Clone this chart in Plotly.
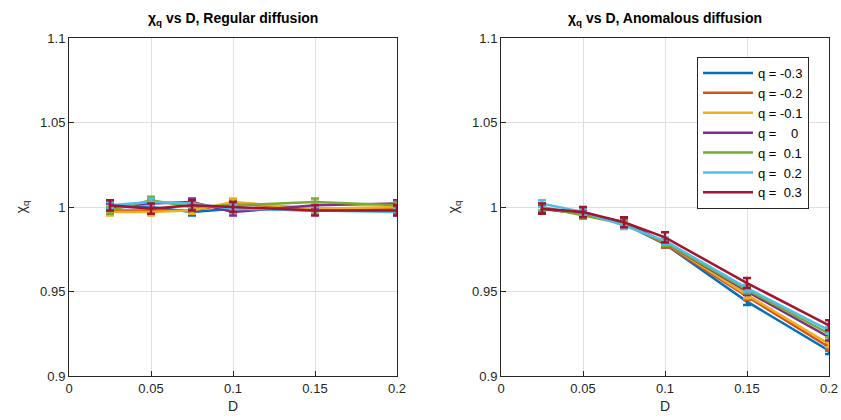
import plotly.graph_objects as go

D = [0.025, 0.05, 0.075, 0.1, 0.15, 0.2]
q_labels = ["q = -0.3", "q = -0.2", "q = -0.1", "q =\u00a0\u00a0\u00a0 0", "q =\u00a0 0.1", "q =\u00a0 0.2", "q =\u00a0 0.3"]
colors = ["#0072BD", "#D95319", "#EDB120", "#7E2F8E", "#77AC30", "#4DBEEE", "#A2142F"]

# Regular diffusion
reg_vals = [
    [1.000, 1.000, 0.997, 0.999, 0.998, 0.998],
    [0.998, 0.998, 0.998, 1.002, 0.999, 0.999],
    [0.997, 0.997, 0.998, 1.003, 0.999, 1.000],
    [1.000, 1.002, 1.003, 0.997, 1.001, 1.002],
    [0.998, 1.004, 1.000, 1.001, 1.003, 1.001],
    [1.001, 1.003, 1.002, 0.999, 0.998, 0.997],
    [1.001, 0.999, 1.001, 1.000, 0.998, 0.998],
]
reg_err = [
    [0.002, 0.002, 0.002, 0.002, 0.002, 0.002],
    [0.002, 0.002, 0.002, 0.002, 0.002, 0.002],
    [0.002, 0.002, 0.002, 0.002, 0.002, 0.002],
    [0.002, 0.002, 0.002, 0.002, 0.002, 0.002],
    [0.002, 0.002, 0.002, 0.002, 0.002, 0.002],
    [0.002, 0.002, 0.002, 0.002, 0.002, 0.002],
    [0.003, 0.003, 0.003, 0.003, 0.003, 0.003],
]

# Anomalous diffusion
ano_vals = [
    [0.999, 0.997, 0.990, 0.978, 0.944, 0.915],
    [0.999, 0.996, 0.991, 0.978, 0.947, 0.917],
    [0.999, 0.996, 0.991, 0.979, 0.948, 0.919],
    [0.999, 0.996, 0.991, 0.979, 0.950, 0.923],
    [1.000, 0.995, 0.990, 0.979, 0.951, 0.925],
    [1.002, 0.997, 0.989, 0.980, 0.952, 0.927],
    [0.999, 0.997, 0.991, 0.982, 0.955, 0.930],
]
ano_err = [
    [0.002, 0.002, 0.002, 0.002, 0.002, 0.002],
    [0.002, 0.002, 0.002, 0.002, 0.002, 0.002],
    [0.002, 0.002, 0.002, 0.002, 0.002, 0.002],
    [0.002, 0.002, 0.002, 0.002, 0.002, 0.002],
    [0.002, 0.002, 0.002, 0.002, 0.002, 0.002],
    [0.002, 0.002, 0.002, 0.002, 0.002, 0.002],
    [0.003, 0.003, 0.003, 0.003, 0.003, 0.003],
]

x_ticks = [0, 0.05, 0.1, 0.15, 0.2]
x_ticktext = ["0", "0.05", "0.1", "0.15", "0.2"]
y_ticks = [0.9, 0.95, 1.0, 1.05, 1.1]
y_ticktext = ["0.9", "0.95", "1", "1.05", "1.1"]

FONT = "Liberation Sans Narrow, Arial Narrow, Liberation Sans, Arial, sans-serif"
TXT = "#262626"

# body margin is removed below, so the figure fills the 841x420 window
W, H = 841, 420


def px(x):
    return x / W


def py(y):
    return 1 - y / H


fig = go.Figure()
for i in range(7):
    fig.add_trace(go.Scatter(
        x=D, y=reg_vals[i], mode="lines", name=q_labels[i],
        line=dict(color=colors[i], width=2.5),
        error_y=dict(type="data", array=reg_err[i], color=colors[i], thickness=2.5, width=4),
        xaxis="x", yaxis="y", showlegend=False, cliponaxis=False))
for i in range(7):
    fig.add_trace(go.Scatter(
        x=D, y=ano_vals[i], mode="lines", name=q_labels[i],
        line=dict(color=colors[i], width=2.5),
        error_y=dict(type="data", array=ano_err[i], color=colors[i], thickness=2.5, width=4),
        xaxis="x2", yaxis="y2", showlegend=True, cliponaxis=False))

common_x = dict(range=[0, 0.2], tickvals=x_ticks, ticktext=x_ticktext, showgrid=True,
                gridcolor="#DFDFDF", gridwidth=1, zeroline=False, showline=True, mirror=True,
                linecolor=TXT, linewidth=1, ticks="inside", ticklen=5, tickcolor=TXT,
                tickfont=dict(family=FONT, size=13, color=TXT), automargin=False,
                ticklabeloverflow="allow",
                title=dict(text="D", font=dict(family=FONT, size=14, color=TXT), standoff=6))
common_y = dict(range=[0.9, 1.1], tickvals=y_ticks, ticktext=y_ticktext, showgrid=True,
                gridcolor="#DFDFDF", gridwidth=1, zeroline=False, showline=True, mirror=True,
                linecolor=TXT, linewidth=1, ticks="inside", ticklen=5, tickcolor=TXT,
                tickfont=dict(family=FONT, size=13, color=TXT), automargin=False,
                ticklabeloverflow="allow",
                title=dict(text="χ<sub>q</sub>", font=dict(family=FONT, size=14, color=TXT), standoff=10))

fig.update_layout(
    width=W, height=H,
    margin=dict(l=0, r=0, t=0, b=0, autoexpand=False),
    plot_bgcolor="white", paper_bgcolor="white",
    xaxis=dict(domain=[px(69), px(397)], anchor="y", **common_x),
    yaxis=dict(domain=[py(376), py(38)], anchor="x", **common_y),
    xaxis2=dict(domain=[px(501), px(829)], anchor="y2", **common_x),
    yaxis2=dict(domain=[py(376), py(38)], anchor="x2", **common_y),
    legend=dict(x=px(697), y=py(57), xanchor="left", yanchor="top",
                bgcolor="white", bordercolor=TXT, borderwidth=1,
                font=dict(family=FONT, size=13, color="black"),
                tracegroupgap=0, itemwidth=50),
    annotations=[
        dict(text="<b>χ<sub>q</sub> vs D, Regular diffusion</b>", x=px((69 + 397) / 2), y=py(19),
             xref="paper", yref="paper", xanchor="center", yanchor="middle", showarrow=False,
             font=dict(family=FONT, size=14, color="black")),
        dict(text="<b>χ<sub>q</sub> vs D, Anomalous diffusion</b>", x=px((501 + 829) / 2), y=py(19),
             xref="paper", yref="paper", xanchor="center", yanchor="middle", showarrow=False,
             font=dict(family=FONT, size=14, color="black")),
    ],
)

fig.write_html("out.html", config={"displayModeBar": False},
               post_script="document.body.style.margin='0';document.body.style.overflow='hidden';")
